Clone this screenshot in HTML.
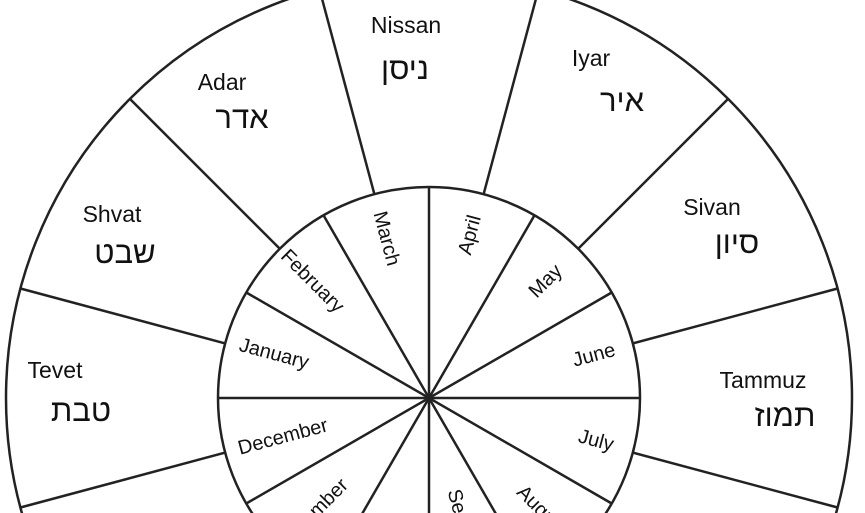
<!DOCTYPE html>
<html><head><meta charset="utf-8"><style>
html,body{margin:0;padding:0;background:#fff;overflow:hidden;width:865px;height:513px}
svg{display:block}
.en{font-family:"Liberation Sans",sans-serif;font-size:23px;fill:#111}
.he{font-family:"Liberation Sans","DejaVu Sans",sans-serif;font-size:31px;fill:#111}
.m{font-family:"Liberation Sans",sans-serif;font-size:20px;fill:#111}
</style></head><body>
<svg width="865" height="513" viewBox="0 0 865 513" xmlns="http://www.w3.org/2000/svg" overflow="hidden">
<g fill="none" stroke="#222" stroke-width="2.5">
<circle cx="429" cy="398" r="423"/>
<circle cx="429" cy="398" r="211"/>
<line x1="483.6" y1="194.2" x2="538.5" y2="-10.6"/>
<line x1="374.4" y1="194.2" x2="319.5" y2="-10.6"/>
<line x1="578.2" y1="248.8" x2="728.1" y2="98.9"/>
<line x1="279.8" y1="248.8" x2="129.9" y2="98.9"/>
<line x1="632.8" y1="343.4" x2="837.6" y2="288.5"/>
<line x1="225.2" y1="343.4" x2="20.4" y2="288.5"/>
<line x1="632.8" y1="452.6" x2="837.6" y2="507.5"/>
<line x1="225.2" y1="452.6" x2="20.4" y2="507.5"/>
<line x1="578.2" y1="547.2" x2="728.1" y2="697.1"/>
<line x1="279.8" y1="547.2" x2="129.9" y2="697.1"/>
<line x1="429" y1="187" x2="429" y2="609"/>
<line x1="218" y1="398" x2="640" y2="398"/>
<line x1="534.5" y1="215.3" x2="323.5" y2="580.7"/>
<line x1="323.5" y1="215.3" x2="534.5" y2="580.7"/>
<line x1="611.7" y1="292.5" x2="246.3" y2="503.5"/>
<line x1="246.3" y1="292.5" x2="611.7" y2="503.5"/>
</g>
<g text-anchor="middle">
<text class="en" x="406" y="33">Nissan</text>
<text class="he" x="405" y="79">ניסן</text>
<text class="en" x="222" y="90">Adar</text>
<text class="he" x="242" y="128">אדר</text>
<text class="en" x="591" y="66">Iyar</text>
<text class="he" x="622" y="111">איר</text>
<text class="en" x="712" y="215">Sivan</text>
<text class="he" x="737" y="253">סיון</text>
<text class="en" x="112" y="222">Shvat</text>
<text class="he" x="125" y="263">שבט</text>
<text class="en" x="55" y="378">Tevet</text>
<text class="he" x="81" y="421">טבת</text>
<text class="en" x="763" y="388">Tammuz</text>
<text class="he" x="785" y="426">תמוז</text>
</g>
<g text-anchor="middle" dominant-baseline="central" class="m">
<text transform="translate(470,235) rotate(-75)">April</text>
<text transform="translate(545.7,281.3) rotate(-45)">May</text>
<text transform="translate(594,355.3) rotate(-15)">June</text>
<text transform="translate(596,440.7) rotate(15)">July</text>
<text transform="translate(542,511) rotate(45)">August</text>
<text transform="translate(466,537) rotate(75)">September</text>
<text transform="translate(386.3,238.6) rotate(75)">March</text>
<text transform="translate(312.3,281.3) rotate(45)">February</text>
<text transform="translate(274,354) rotate(15)">January</text>
<text transform="translate(283,437) rotate(-15)">December</text>
<text transform="translate(312.3,514.7) rotate(-45)">November</text>
<text transform="translate(386.3,557.4) rotate(-75)">October</text>
</g>
</svg>
</body></html>
